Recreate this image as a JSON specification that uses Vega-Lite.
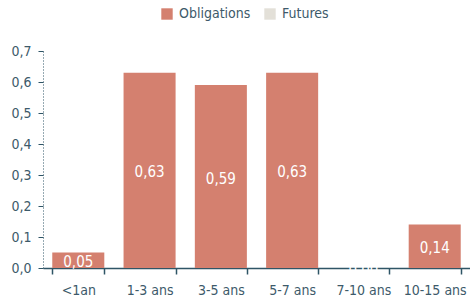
{
  "$schema": "https://vega.github.io/schema/vega-lite/v6.json",
  "width": 427,
  "height": 217,
  "autosize": "none",
  "padding": {"left": 43, "right": 0, "top": 51, "bottom": 32},
  "background": "white",
  "config": {
    "font": "DejaVu Sans Condensed, sans-serif",
    "view": {"stroke": null},
    "axis": {"grid": false, "labelColor": "#3d5a6a", "labelFontSize": 14, "domainColor": "#2f5566", "tickColor": "#2f5566", "labelFont": "DejaVu Sans Condensed"}
  },
  "data": {
    "values": [
      {"cat": "<1an", "serie": "Obligations", "v": 0.05},
      {"cat": "1-3 ans", "serie": "Obligations", "v": 0.63},
      {"cat": "3-5 ans", "serie": "Obligations", "v": 0.59},
      {"cat": "5-7 ans", "serie": "Obligations", "v": 0.63},
      {"cat": "7-10 ans", "serie": "Obligations", "v": 0.0},
      {"cat": "10-15 ans", "serie": "Obligations", "v": 0.14},
      {"cat": "<1an", "serie": "Futures", "v": 0},
      {"cat": "1-3 ans", "serie": "Futures", "v": 0},
      {"cat": "3-5 ans", "serie": "Futures", "v": 0},
      {"cat": "5-7 ans", "serie": "Futures", "v": 0},
      {"cat": "7-10 ans", "serie": "Futures", "v": 0},
      {"cat": "10-15 ans", "serie": "Futures", "v": 0}
    ]
  },
  "encoding": {
    "x": {
      "field": "cat", "type": "nominal", "sort": null, "title": null,
      "scale": {"paddingInner": 0.27, "paddingOuter": 0.13},
      "axis": {"labelAngle": 0, "tickBand": "extent", "tickSize": 6, "domainWidth": 1.5, "tickWidth": 1.5, "labelPadding": 9}
    }
  },
  "layer": [
    {
      "mark": {"type": "bar"},
      "encoding": {
        "y": {
          "field": "v", "type": "quantitative", "stack": true, "title": null,
          "scale": {"domain": [0, 0.7]},
          "axis": {"values": [0, 0.1, 0.2, 0.3, 0.4, 0.5, 0.6, 0.7], "labelOverlap": false, "labelExpr": "replace(format(datum.value, '.1f'), '.', ',')", "domainDash": [1, 2], "tickSize": 5, "labelPadding": 7}
        },
        "color": {
          "field": "serie", "type": "nominal", "title": null,
          "scale": {"domain": ["Obligations", "Futures"], "range": ["#d4806f", "#e3e0d8"]},
          "legend": {"orient": "none", "legendX": 117, "legendY": -44, "direction": "horizontal", "symbolType": "square", "symbolSize": 130, "symbolStrokeWidth": 0, "labelFontSize": 14, "labelColor": "#3d5a6a", "columnPadding": 12, "labelOffset": 5, "labelFont": "DejaVu Sans Condensed"}
        }
      }
    },
    {
      "transform": [
        {"filter": "datum.serie == 'Obligations'"},
        {"calculate": "datum.v / 2", "as": "mid"},
        {"calculate": "replace(format(datum.v, '.2f'), '.', ',')", "as": "lbl"}
      ],
      "mark": {"type": "text", "color": "white", "fontSize": 15, "baseline": "middle", "dy": 2},
      "encoding": {
        "y": {
          "field": "mid", "type": "quantitative", "title": null,
          "scale": {"domain": [0, 0.7]},
          "axis": {"values": [0, 0.1, 0.2, 0.3, 0.4, 0.5, 0.6, 0.7], "labelOverlap": false, "labelExpr": "replace(format(datum.value, '.1f'), '.', ',')", "domainDash": [1, 2], "tickSize": 5, "labelPadding": 7}
        },
        "text": {"field": "lbl", "type": "nominal"}
      }
    }
  ]
}
